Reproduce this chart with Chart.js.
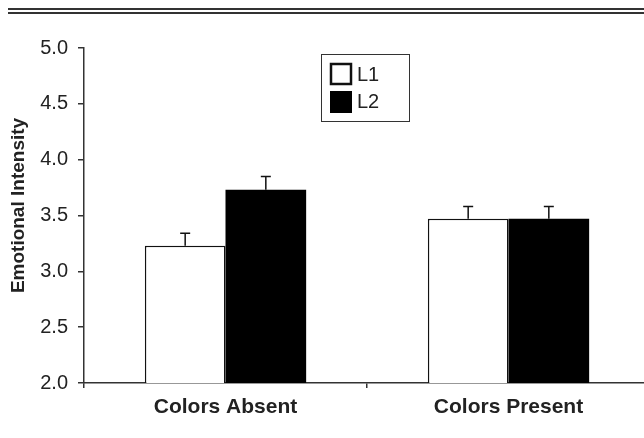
<!DOCTYPE html>
<html>
<head>
<meta charset="utf-8">
<script src="https://cdn.jsdelivr.net/npm/chart.js@4"></script>
<style>
  html, body { margin: 0; padding: 0; background: #fff; overflow: hidden; }
  #wrap { position: relative; width: 644px; height: 438px; overflow: hidden; }
  #rule { position: absolute; top: 8px; left: 8px; width: 660px; border-top: 6px double #333; }
  canvas { position: absolute; left: 0; top: 0; }
</style>
</head>
<body>
<div id="wrap">
  <div id="rule"></div>
  <canvas id="chart" width="650" height="438"></canvas>
</div>
<script>
// values
const categories = ["Colors Absent", "Colors Present"];
const seriesNames = ["L1", "L2"];
const l1Values = [3.23, 3.47];
const l2Values = [3.73, 3.47];
const l1Errors = [0.11, 0.11];
const l2Errors = [0.12, 0.11];
const yMin = 2.0;
const yMax = 5.0;
const yStep = 0.5;
const yTitle = "Emotional Intensity";

const fontFamily = "'Liberation Sans', Arial, sans-serif";
const ink = "#222";

// upward-only error bars with a small cap
const errorBars = {
  id: "errorBars",
  afterDatasetsDraw(chart) {
    const ctx = chart.ctx;
    const yScale = chart.scales.y;
    chart.data.datasets.forEach((ds, i) => {
      const meta = chart.getDatasetMeta(i);
      meta.data.forEach((bar, j) => {
        const top = yScale.getPixelForValue(ds.data[j] + ds.errors[j]);
        ctx.save();
        ctx.strokeStyle = "#111";
        ctx.lineWidth = 1.5;
        ctx.beginPath();
        ctx.moveTo(bar.x, bar.y);
        ctx.lineTo(bar.x, top);
        ctx.moveTo(bar.x - 5, top);
        ctx.lineTo(bar.x + 5, top);
        ctx.stroke();
        ctx.restore();
      });
    });
  }
};

// boxed legend inside the plot, plus the y title sitting a bit above centre
const boxLegend = {
  id: "boxLegend",
  afterDraw(chart) {
    const ctx = chart.ctx;
    const x0 = chart.chartArea.left + 237;
    const y0 = chart.chartArea.top + 6;
    ctx.save();
    ctx.strokeStyle = "#333";
    ctx.lineWidth = 1;
    ctx.strokeRect(x0 + 0.5, y0 + 0.5, 88, 67);
    ctx.font = "20px " + fontFamily;
    ctx.textBaseline = "middle";
    chart.data.datasets.forEach((ds, i) => {
      const sy = y0 + 10 + i * 27;
      if (ds.backgroundColor === "#ffffff") {
        ctx.fillStyle = "#fff";
        ctx.fillRect(x0 + 10, sy, 20, 20);
        ctx.strokeStyle = "#111";
        ctx.lineWidth = 2.5;
        ctx.strokeRect(x0 + 10, sy, 20, 20);
      } else {
        ctx.fillStyle = ds.backgroundColor;
        ctx.fillRect(x0 + 9, sy, 22, 22);
      }
      ctx.fillStyle = ink;
      ctx.fillText(ds.label, x0 + 36, sy + 11);
    });

    ctx.translate(19, (chart.chartArea.top + chart.chartArea.bottom) / 2 - 10);
    ctx.rotate(-Math.PI / 2);
    ctx.font = "bold 19px " + fontFamily;
    ctx.textAlign = "center";
    ctx.fillText(yTitle, 0, 0);
    ctx.restore();
  }
};

new Chart(document.getElementById("chart"), {
  type: "bar",
  data: {
    labels: categories,
    datasets: [
      {
        label: seriesNames[0],
        data: l1Values,
        errors: l1Errors,
        backgroundColor: "#ffffff",
        borderColor: "#111",
        borderWidth: 1.5
      },
      {
        label: seriesNames[1],
        data: l2Values,
        errors: l2Errors,
        backgroundColor: "#000000",
        borderColor: "#000",
        borderWidth: 0
      }
    ]
  },
  options: {
    responsive: false,
    animation: false,
    layout: { padding: { top: 48, left: 0, right: 0, bottom: 0 } },
    datasets: { bar: { categoryPercentage: 0.57, barPercentage: 1.0 } },
    plugins: {
      legend: { display: false },
      tooltip: { enabled: false }
    },
    scales: {
      x: {
        afterFit(scale) { scale.height = 55; },
        grid: { drawOnChartArea: false, drawTicks: true, tickLength: 5, color: "#333", lineWidth: 1.5 },
        border: { display: true, color: "#333", width: 1.5 },
        ticks: { color: ink, padding: 7, font: { family: fontFamily, size: 21, weight: "bold" } }
      },
      y: {
        min: yMin,
        max: yMax,
        afterFit(scale) { scale.width = 84; },
        grid: { drawOnChartArea: false, drawTicks: true, tickLength: 6, color: "#333", lineWidth: 1.5 },
        border: { display: true, color: "#333", width: 1.5 },
        ticks: {
          stepSize: yStep,
          color: ink,
          padding: 10,
          font: { family: fontFamily, size: 20 },
          callback: v => Number(v).toFixed(1)
        }
      }
    }
  },
  plugins: [errorBars, boxLegend]
});
</script>
</body>
</html>
